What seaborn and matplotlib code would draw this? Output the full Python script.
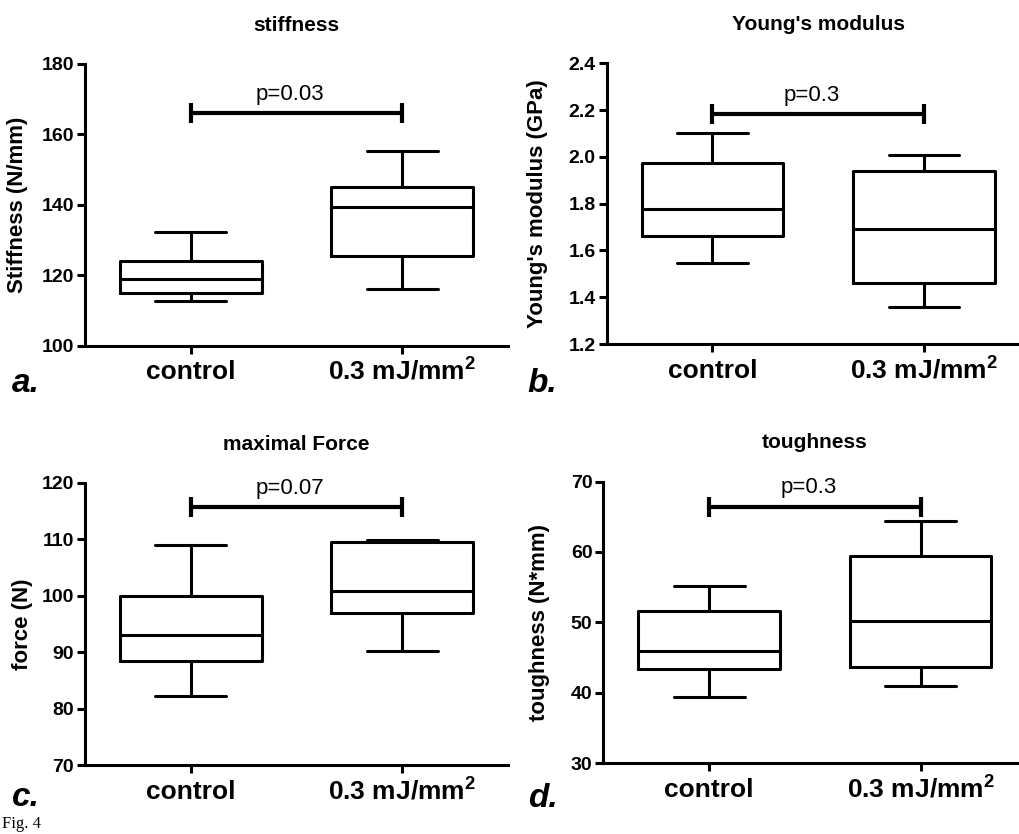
import numpy as np
import pandas as pd
import matplotlib
matplotlib.use("Agg")
import matplotlib.pyplot as plt
import seaborn as sns

# --- five-number summaries: min, q1, median, q3, max ---
groups = ["control", "0.3 mJ/mm$^\\mathbf{2}$"]

stiffness_control = [112.6, 115.1, 118.8, 124.1, 132.2]
stiffness_treated = [116.2, 125.5, 139.3, 145.0, 155.4]
youngs_control = [1.548, 1.662, 1.776, 1.972, 2.101]
youngs_treated = [1.358, 1.462, 1.693, 1.941, 2.009]
force_control = [82.3, 88.5, 93.1, 99.9, 109.1]
force_treated = [90.2, 96.9, 100.9, 109.55, 109.85]
toughness_control = [39.4, 43.35, 46.0, 51.6, 55.2]
toughness_treated = [41.0, 43.7, 50.2, 59.5, 64.4]

titles = ["stiffness", "Young's modulus", "maximal Force", "toughness"]
ylabels = ["Stiffness (N/mm)", "Young's modulus (GPa)", "force (N)", "toughness (N*mm)"]
p_values = ["p=0.03", "p=0.3", "p=0.07", "p=0.3"]
bracket_y = [166, 2.182, 115.7, 66.45]
ylims = [(100, 180), (1.2, 2.4), (70, 120), (30, 70)]
ysteps = [20, 0.2, 10, 10]
yfmt = ["{:.0f}", "{:.1f}", "{:.0f}", "{:.0f}"]
letters = ["a.", "b.", "c.", "d."]

panels = [
    (stiffness_control, stiffness_treated),
    (youngs_control, youngs_treated),
    (force_control, force_treated),
    (toughness_control, toughness_treated),
]


def main():
    sns.set_style("ticks")
    plt.rcParams["font.family"] = ["Liberation Sans", "DejaVu Sans"]
    plt.rcParams["mathtext.fontset"] = "custom"
    plt.rcParams["mathtext.bf"] = "Liberation Sans:bold"
    plt.rcParams["mathtext.rm"] = "Liberation Sans:bold"
    plt.rcParams["text.color"] = "black"
    plt.rcParams["axes.labelcolor"] = "black"

    fig = plt.figure(figsize=(10.2, 8.34), dpi=100)

    # axes boxes in figure fractions [left, bottom, width, height]
    boxes = [
        [0.0833, 0.5855, 0.4147, 0.3378],
        [0.5948, 0.5875, 0.4147, 0.3366],
        [0.0833, 0.0824, 0.4147, 0.3385],
        [0.5915, 0.0848, 0.4147, 0.3378],
    ]
    label_x = [-0.135, -0.139, -0.123, -0.126]
    letter_pos = [(0.012, 0.530), (0.517, 0.530), (0.012, 0.034), (0.518, 0.032)]

    lw = 2.2
    for i, (ctrl, trt) in enumerate(panels):
        ax = fig.add_axes(boxes[i])
        df = pd.DataFrame({
            "group": [groups[0]] * len(ctrl) + [groups[1]] * len(trt),
            "value": ctrl + trt,
        })
        sns.boxplot(
            data=df, x="group", y="value", order=groups,
            whis=(0, 100), width=0.67, fill=False, color="black",
            linewidth=lw, ax=ax,
        )

        lo, hi = ylims[i]
        ax.set_ylim(lo, hi)
        ax.set_xlim(-0.5, 1.5)
        ticks = np.arange(lo, hi + ysteps[i] / 2, ysteps[i])
        ax.set_yticks(ticks)
        ax.set_yticklabels([yfmt[i].format(t) for t in ticks])

        for side in ["top", "right"]:
            ax.spines[side].set_visible(False)
        for side in ["left", "bottom"]:
            ax.spines[side].set_linewidth(lw)
            ax.spines[side].set_color("black")

        ax.tick_params(axis="y", length=5.8, width=lw, pad=2, labelsize=14, colors="black")
        ax.tick_params(axis="x", length=5.8, width=lw, pad=18.5, labelsize=19, colors="black")
        for lbl in ax.get_yticklabels():
            lbl.set_fontweight("bold")
        for lbl in ax.get_xticklabels():
            lbl.set_fontweight("bold")
            lbl.set_verticalalignment("baseline")

        ax.set_xlabel("")
        ax.set_ylabel(ylabels[i], fontsize=16, fontweight="bold")
        ax.yaxis.set_label_coords(label_x[i], 0.5)
        ax.set_title(titles[i], fontsize=15, fontweight="bold", pad=24, color="black")

        # significance bracket between the two groups
        yb = bracket_y[i]
        ax.plot([0, 1], [yb, yb], color="black", lw=3, marker="|",
                markersize=14, markeredgewidth=3, solid_capstyle="butt", clip_on=False)
        ax.annotate(p_values[i], xy=(0.47, yb), xytext=(0, 6), textcoords="offset points",
                    ha="center", va="bottom", fontsize=16, color="black")

        fig.text(letter_pos[i][0], letter_pos[i][1], letters[i], fontsize=24,
                 fontweight="bold", fontstyle="italic", va="baseline")

    fig.text(0.002, 0.007, "Fig. 4", family=["Liberation Serif", "DejaVu Serif"],
             fontsize=12, va="baseline")

    fig.savefig("out.png", dpi=100)


if __name__ == "__main__":
    main()
